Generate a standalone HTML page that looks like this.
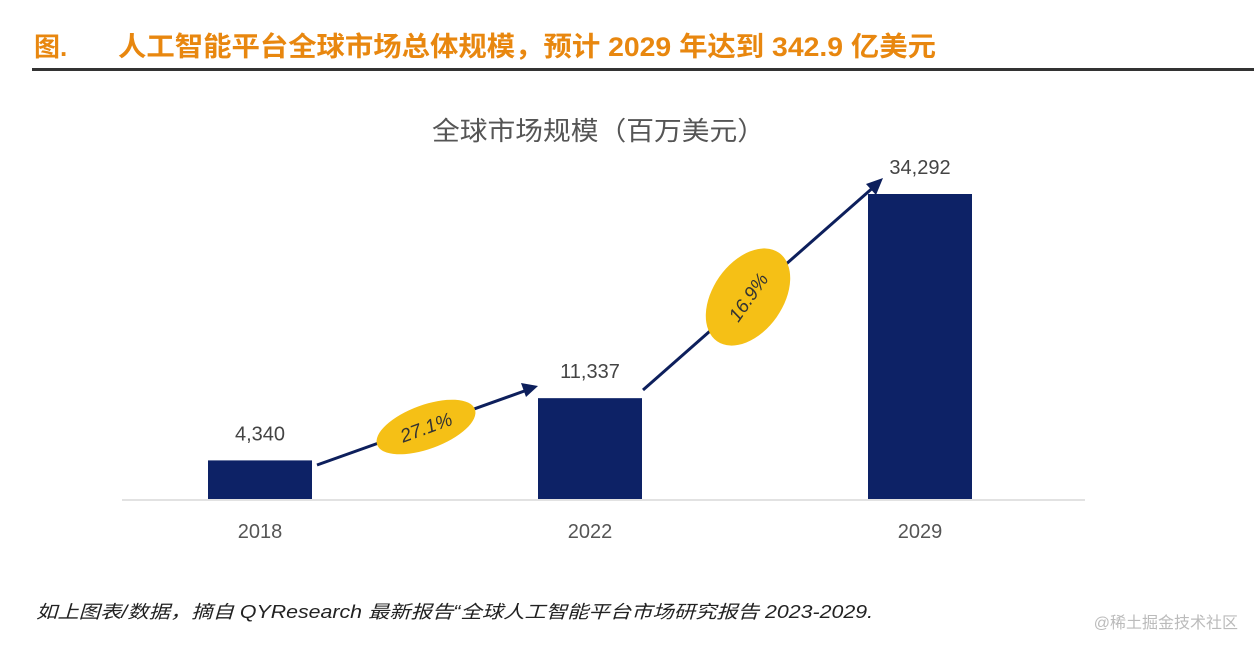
<!DOCTYPE html>
<html><head><meta charset="utf-8"><style>
body{margin:0;width:1254px;height:640px;background:#fff;overflow:hidden;font-family:"Liberation Sans","Noto Sans CJK SC",sans-serif}
</style></head><body>
<svg width="1254" height="640">
<text x="34" y="56" font-size="26" font-weight="bold" fill="#e8870f" font-family="Liberation Sans,Noto Sans CJK SC,sans-serif">图.</text>
<text x="118" y="56" font-size="27" font-weight="bold" fill="#e8870f" textLength="818" lengthAdjust="spacingAndGlyphs" font-family="Liberation Sans,Noto Sans CJK SC,sans-serif">人工智能平台全球市场总体规模，预计 2029 年达到 342.9 亿美元</text>
<rect x="32" y="68" width="1222" height="3" fill="#333"/>
<text x="432" y="140" font-size="26" fill="#555" textLength="333" lengthAdjust="spacingAndGlyphs" font-family="Liberation Sans,Noto Sans CJK SC,sans-serif">全球市场规模（百万美元）</text>
<line x1="122" y1="500" x2="1085" y2="500" stroke="#d9d9d9" stroke-width="1.5"/>
<g id="bars"></g>
<g>
<line x1="317" y1="465" x2="530" y2="389" stroke="#0d1f5c" stroke-width="3"/>
<polygon points="538,386 521,383 526,397" fill="#0d1f5c"/>
<ellipse cx="426" cy="427" rx="52" ry="22" fill="#f5c016" transform="rotate(-20 426 427)"/>
<text x="426" y="434" font-size="19" fill="#333" text-anchor="middle" transform="rotate(-20 426 427)" font-style="italic">27.1%</text>
</g>
<g>
<line x1="643" y1="390" x2="876" y2="185" stroke="#0d1f5c" stroke-width="3"/>
<polygon points="883,178 866,184 876,195" fill="#0d1f5c"/>
<ellipse cx="748" cy="297" rx="54" ry="35" fill="#f5c016" transform="rotate(-55 748 297)"/>
<text x="748" y="304" font-size="19" fill="#333" text-anchor="middle" transform="rotate(-55 748 297)" font-style="italic">16.9%</text>
</g>
<text x="36" y="618" font-size="18" font-style="italic" fill="#222" textLength="837" lengthAdjust="spacingAndGlyphs" font-family="Liberation Sans,Noto Sans CJK SC,sans-serif">如上图表/数据，摘自 QYResearch 最新报告“全球人工智能平台市场研究报告 2023-2029.</text>
<text x="1238" y="628" font-size="16" fill="#bbb" text-anchor="end" font-family="Liberation Sans,Noto Sans CJK SC,sans-serif">@稀土掘金技术社区</text>
</svg>
<script>
const categories=["2018","2022","2029"];
const values=[4340,11337,34292];
const valueLabels=["4,340","11,337","34,292"];
const NS="http://www.w3.org/2000/svg";
const g=document.getElementById('bars');
const base=499,maxH=305,maxV=34292;
function y(v){return base-v/maxV*maxH;}
function xc(i){return [260,590,920][i];}
categories.forEach((c,i)=>{
  const r=document.createElementNS(NS,'rect');
  r.setAttribute('x',xc(i)-52);r.setAttribute('y',y(values[i]));
  r.setAttribute('width',104);r.setAttribute('height',base-y(values[i]));
  r.setAttribute('fill','#0d2266');
  
  
  g.appendChild(r);
  const t=document.createElementNS(NS,'text');
  t.setAttribute('x',xc(i));t.setAttribute('y',y(values[i])-20);
  t.setAttribute('font-size','20');t.setAttribute('fill','#444');t.setAttribute('text-anchor','middle');
  t.textContent=valueLabels[i];
  
  
  g.appendChild(t);
  const l=document.createElementNS(NS,'text');
  l.setAttribute('x',xc(i));l.setAttribute('y',538);
  l.setAttribute('font-size','20');l.setAttribute('fill','#555');l.setAttribute('text-anchor','middle');
  l.textContent=c;
  
  
  g.appendChild(l);
});
</script>
</body></html>
